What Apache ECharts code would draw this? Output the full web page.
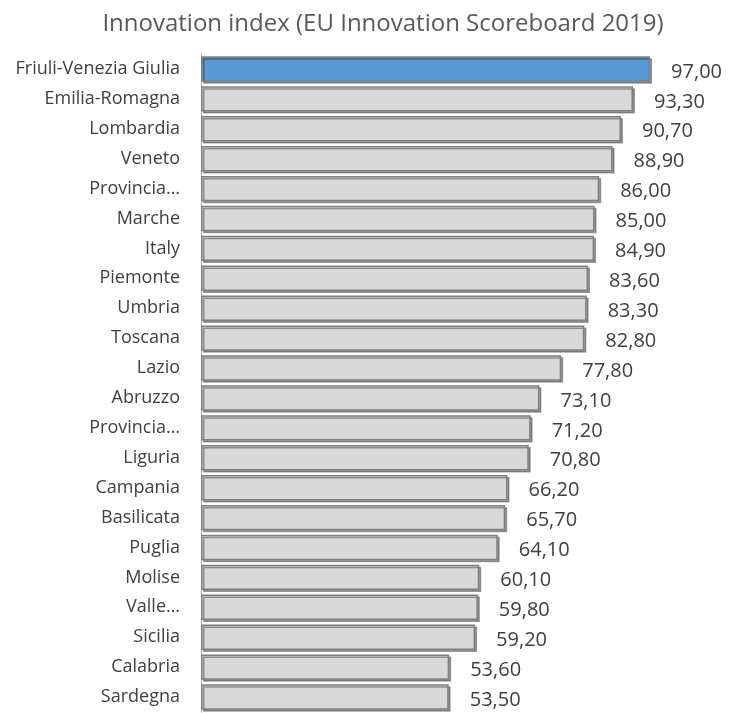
<!DOCTYPE html>
<html>
<head>
<meta charset="utf-8">
<script src="https://cdn.jsdelivr.net/npm/echarts@6/dist/echarts.min.js"></script>
<style>
  html, body { margin: 0; padding: 0; background: #fff; }
  #chart { width: 729px; height: 713px; }
</style>
</head>
<body>
<div id="chart"></div>
<script>
// regions as shown on the picture (long names are cut off there)
const regions = [
  "Friuli-Venezia Giulia", "Emilia-Romagna", "Lombardia", "Veneto", "Provincia…",
  "Marche", "Italy", "Piemonte", "Umbria", "Toscana", "Lazio", "Abruzzo",
  "Provincia…", "Liguria", "Campania", "Basilicata", "Puglia", "Molise",
  "Valle…", "Sicilia", "Calabria", "Sardegna"
];
const innovationIndex = [
  97.0, 93.3, 90.7, 88.9, 86.0, 85.0, 84.9, 83.6, 83.3, 82.8, 77.8, 73.1,
  71.2, 70.8, 66.2, 65.7, 64.1, 60.1, 59.8, 59.2, 53.6, 53.5
];
const highlighted = "Friuli-Venezia Giulia";

const chart = echarts.init(document.getElementById("chart"));

const barData = innovationIndex.map((v, i) => ({
  value: v,
  itemStyle: {
    color: regions[i] === highlighted ? "#5b9bd5" : "#d9d9d9"
  }
}));

const option = {
  animation: false,
  title: {
    text: "Innovation index (EU Innovation Scoreboard 2019)",
    left: 378,
    textAlign: "center",
    top: 7,
    textStyle: {
      fontFamily: "Open Sans",
      fontSize: 24,
      fontWeight: "normal",
      color: "#595959"
    }
  },
  grid: {
    left: 201,
    right: 65,
    top: 54,
    bottom: 1
  },
  xAxis: {
    type: "value",
    min: 0,
    max: 100,
    show: false
  },
  yAxis: {
    type: "category",
    data: regions,
    inverse: true,
    axisTick: { show: false },
    axisLine: { lineStyle: { color: "#a6a6a6", width: 1 } },
    axisLabel: {
      margin: 21,
      fontFamily: "Open Sans",
      fontSize: 18,
      color: "#404040"
    }
  },
  series: [{
    type: "bar",
    data: barData,
    barCategoryGap: "15%",
    itemStyle: {
      borderColor: "#7f7f7f",
      borderWidth: 1.5,
      shadowColor: "rgba(0,0,0,0.35)",
      shadowOffsetX: 2,
      shadowOffsetY: 2,
      shadowBlur: 0
    },
    label: {
      show: true,
      position: "right",
      distance: 21,
      offset: [0, 3],
      fontFamily: "Open Sans",
      fontSize: 20,
      color: "#404040",
      formatter: p => p.value.toFixed(2).replace(".", ",")
    }
  }]
};

chart.setOption(option);
</script>
</body>
</html>
